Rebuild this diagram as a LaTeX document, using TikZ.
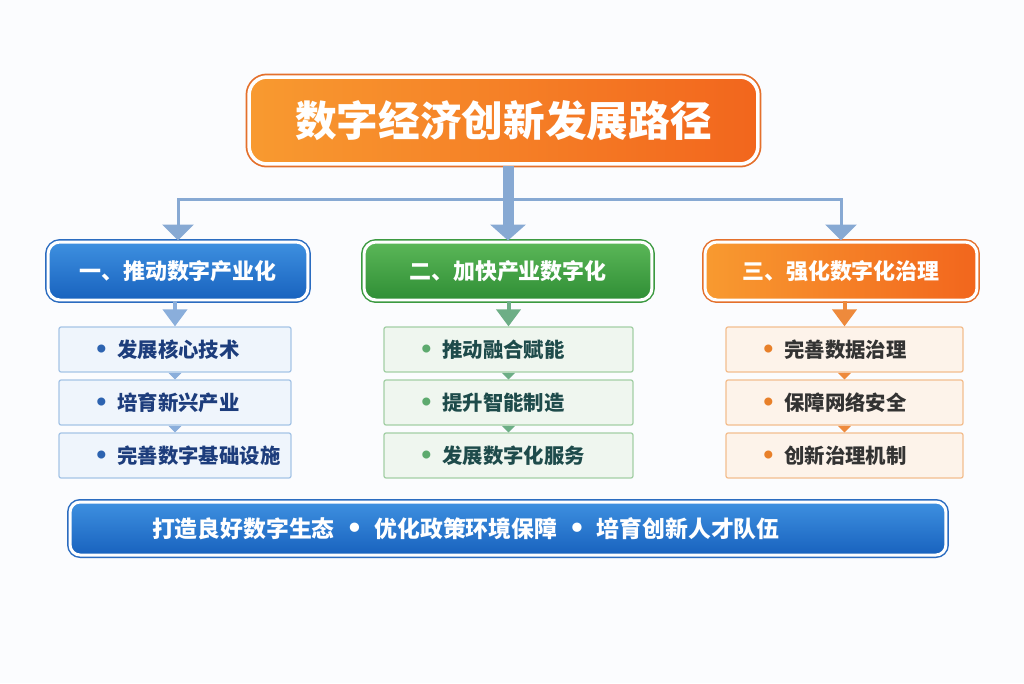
\documentclass[tikz,border=0pt]{standalone}
\usepackage{fontspec}
\setmainfont{Noto Sans CJK SC}
\newfontfamily\dotfont{DejaVu Sans}
\usetikzlibrary{arrows.meta,shadows}
\definecolor{bgCol}{HTML}{FBFCFE}
\definecolor{lineCol}{HTML}{87A9D3}
\definecolor{orangeL}{HTML}{F89A30}
\definecolor{orangeR}{HTML}{F2661D}
\definecolor{orangeRim}{HTML}{E4702C}
\definecolor{blueT}{HTML}{3E90E0}
\definecolor{blueB}{HTML}{1862BE}
\definecolor{blueRim}{HTML}{2B6CC0}
\definecolor{greenT}{HTML}{5BB758}
\definecolor{greenB}{HTML}{2F8E35}
\definecolor{greenRim}{HTML}{3C9A41}
\definecolor{itemBlueFill}{HTML}{EFF5FC}
\definecolor{itemBlueLine}{HTML}{A5C4E6}
\definecolor{itemGreenFill}{HTML}{EFF6EF}
\definecolor{itemGreenLine}{HTML}{A3CFA5}
\definecolor{itemOrangeFill}{HTML}{FDF3EA}
\definecolor{itemOrangeLine}{HTML}{F3BE8F}
\definecolor{textBlue}{HTML}{1D3D7C}
\definecolor{textGreen}{HTML}{1E4B4B}
\definecolor{textOrange}{HTML}{333333}
\definecolor{dotBlue}{HTML}{2D63B0}
\definecolor{dotGreen}{HTML}{5DAA6E}
\definecolor{dotOrange}{HTML}{E8802A}
\definecolor{stepBlue}{HTML}{8AAEDB}
\definecolor{stepGreen}{HTML}{6DAE86}
\definecolor{stepOrange}{HTML}{EE8A3C}
\newcommand{\itemdot}[1]{\textcolor{#1}{\dotfont\fontsize{13}{14}\selectfont •}\kern5pt}
\newcommand{\bardot}{\enspace{\dotfont\fontsize{15}{16}\selectfont •}\enspace}

\begin{document}
\begin{tikzpicture}[x=0.02cm, y=-0.02cm,
    softShadow/.style={drop shadow={opacity=0.18, shadow xshift=0cm, shadow yshift=-0.06cm}},
    titleStyle/.style={rectangle, rounded corners=0.36cm, minimum width=10.18cm, minimum height=1.74cm, softShadow, preaction={draw=orangeRim, line width=0.14cm}, draw=white, line width=0.07cm, left color=orangeL, right color=orangeR, text=white, font=\bfseries\fontsize{23.7}{28}\selectfont},
    catStyle/.style={rectangle, rounded corners=0.24cm, minimum height=1.16cm, softShadow, preaction={draw=#1, line width=0.12cm}, draw=white, line width=0.06cm, text=white, font=\bfseries\fontsize{12.5}{15}\selectfont},
    itemStyle/.style={rectangle, rounded corners=0.04cm, minimum height=0.9cm, inner xsep=0.7cm, align=left, line width=0.025cm, font=\bfseries\fontsize{11.6}{14}\selectfont},
    barStyle/.style={rectangle, rounded corners=0.2cm, minimum height=1.06cm, softShadow, preaction={draw=blueRim, line width=0.12cm}, draw=white, line width=0.06cm, top color=blueT, bottom color=blueB, text=white, align=left, font=\bfseries\fontsize{13}{16}\selectfont},
    trunkStyle/.style={draw=lineCol, line width=0.22cm, -{Triangle[width=0.7cm, length=0.32cm]}},
    branchStyle/.style={draw=lineCol, line width=0.06cm, -{Triangle[width=0.62cm, length=0.32cm]}},
    downStyle/.style={draw=#1, line width=0.08cm, -{Triangle[width=0.48cm, length=0.34cm]}},
    stepStyle/.style={draw=#1, line width=0.01cm, -{Triangle[width=0.26cm, length=0.13cm]}}]
    \useasboundingbox[fill=bgCol] (0,0) rectangle (1024,683);

    \node[titleStyle] (title) at (503.5, 120.5) {数字经济创新发展路径};

    \node[catStyle=blueRim, top color=blueT, bottom color=blueB, minimum width=5.2cm] (cat_1) at (178, 271) {一、推动数字产业化};
    \node[catStyle=greenRim, top color=greenT, bottom color=greenB, minimum width=5.76cm] (cat_2) at (508, 271) {二、加快产业数字化};
    \node[catStyle=orangeRim, left color=orangeL, right color=orangeR, minimum width=5.44cm] (cat_3) at (841, 271) {三、强化数字化治理};

    \coordinate (split) at (508, 199);
    \draw[trunkStyle] (title.south -| cat_2.north) -- (cat_2.north);
    \draw[branchStyle] (split) -| (cat_1.north);
    \draw[branchStyle] (split) -| (cat_3.north);

    \node[itemStyle, fill=itemBlueFill, draw=itemBlueLine, text=textBlue, text width=3.24cm] (item_1_1) at (175, 349.5) {\itemdot{dotBlue}发展核心技术};
    \node[itemStyle, fill=itemBlueFill, draw=itemBlueLine, text=textBlue, text width=3.24cm] (item_1_2) at (175, 402.5) {\itemdot{dotBlue}培育新兴产业};
    \node[itemStyle, fill=itemBlueFill, draw=itemBlueLine, text=textBlue, text width=3.24cm] (item_1_3) at (175, 455.5) {\itemdot{dotBlue}完善数字基础设施};

    \node[itemStyle, fill=itemGreenFill, draw=itemGreenLine, text=textGreen, text width=3.58cm] (item_2_1) at (508.5, 349.5) {\itemdot{dotGreen}推动融合赋能};
    \node[itemStyle, fill=itemGreenFill, draw=itemGreenLine, text=textGreen, text width=3.58cm] (item_2_2) at (508.5, 402.5) {\itemdot{dotGreen}提升智能制造};
    \node[itemStyle, fill=itemGreenFill, draw=itemGreenLine, text=textGreen, text width=3.58cm] (item_2_3) at (508.5, 455.5) {\itemdot{dotGreen}发展数字化服务};

    \node[itemStyle, fill=itemOrangeFill, draw=itemOrangeLine, text=textOrange, text width=3.34cm] (item_3_1) at (844.5, 349.5) {\itemdot{dotOrange}完善数据治理};
    \node[itemStyle, fill=itemOrangeFill, draw=itemOrangeLine, text=textOrange, text width=3.34cm] (item_3_2) at (844.5, 402.5) {\itemdot{dotOrange}保障网络安全};
    \node[itemStyle, fill=itemOrangeFill, draw=itemOrangeLine, text=textOrange, text width=3.34cm] (item_3_3) at (844.5, 455.5) {\itemdot{dotOrange}创新治理机制};

    \draw[downStyle=stepBlue] (cat_1.south -| item_1_1.north) -- (item_1_1.north);
    \draw[downStyle=stepGreen] (cat_2.south -| item_2_1.north) -- (item_2_1.north);
    \draw[downStyle=stepOrange] (cat_3.south -| item_3_1.north) -- (item_3_1.north);

    \draw[stepStyle=stepBlue] (item_1_1.south) -- (item_1_2.north);
    \draw[stepStyle=stepBlue] (item_1_2.south) -- (item_1_3.north);
    \draw[stepStyle=stepGreen] (item_2_1.south) -- (item_2_2.north);
    \draw[stepStyle=stepGreen] (item_2_2.south) -- (item_2_3.north);
    \draw[stepStyle=stepOrange] (item_3_1.south) -- (item_3_2.north);
    \draw[stepStyle=stepOrange] (item_3_2.south) -- (item_3_3.north);

    \node[barStyle, minimum width=17.52cm, inner xsep=1.64cm, text width=14.24cm] (bar) at (508, 528.5) {打造良好数字生态\bardot 优化政策环境保障\bardot 培育创新人才队伍};
\end{tikzpicture}
\end{document}
